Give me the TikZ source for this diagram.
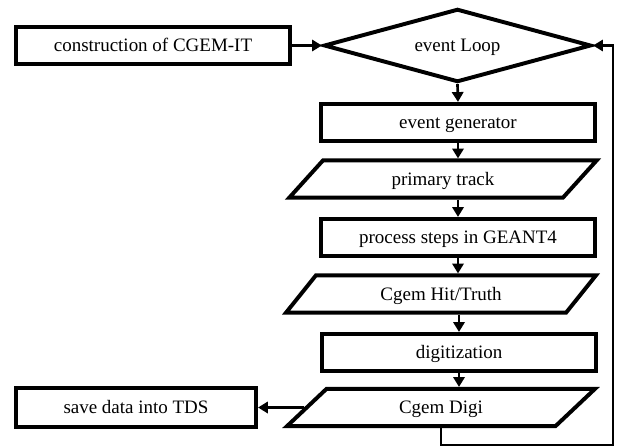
\documentclass[tikz,border=0pt]{standalone}
\usepackage{fontspec}
\setmainfont{Liberation Serif}
\usetikzlibrary{shapes.geometric,arrows.meta}

\begin{document}
\begin{tikzpicture}[
	x=0.025cm, y=-0.025cm,
	font=\fontsize{13.5}{16}\selectfont,
	every node/.style={text height=1em, text depth=0.1em},
	box/.style={draw, line width=2.8pt, minimum width=6.85cm, minimum height=0.93cm, inner sep=0pt},
	datum/.style={draw, line width=2.8pt, trapezium, trapezium left angle=47, trapezium right angle=133,
		trapezium stretches=true, minimum width=7.75cm, minimum height=0.93cm, inner sep=0pt},
	choice/.style={draw, line width=2.8pt, diamond, aspect=3.6, minimum width=6.68cm, minimum height=1.83cm, inner sep=0pt},
	flow/.style={line width=1.9pt, -{Triangle[length=7pt,width=8pt]}}]
\useasboundingbox (0,0) rectangle (618,447);
\node[box] (build) at (153,45.5) {construction of CGEM-IT};
\node[choice] (loop) at (457.5,45.5) {event Loop};
\node[box] (gen) at (458,122.5) {event generator};
\node[datum] (primary) at (443,179) {primary track};
\node[box] (steps) at (458,237.5) {process steps in GEANT4};
\node[datum] (hit) at (441,294) {Cgem Hit/Truth};
\node[box] (digit) at (459,352.5) {digitization};
\node[datum] (digi) at (441,407.5) {Cgem Digi};
\node[box, minimum width=6cm, minimum height=0.98cm] (save) at (136,407.5) {save data into TDS};
\coordinate (corner) at (613,445);
\draw[flow] (build) -- (loop);
\draw[flow] (loop.south) -- (gen.north);
\draw[flow] (gen.south) -- (gen.south |- primary.north);
\draw[flow] (primary.south -| steps.north) -- (steps.north);
\draw[flow] (steps.south) -- (steps.south |- hit.north);
\draw[flow] (hit.south -| digit.north) -- (digit.north);
\draw[flow] (digit.south) -- (digit.south |- digi.north);
\draw[flow] (digi.west) -- (digi.west -| save.east);
\draw[flow] (digi.south) |- (corner) |- (loop.east);
\end{tikzpicture}
\end{document}
